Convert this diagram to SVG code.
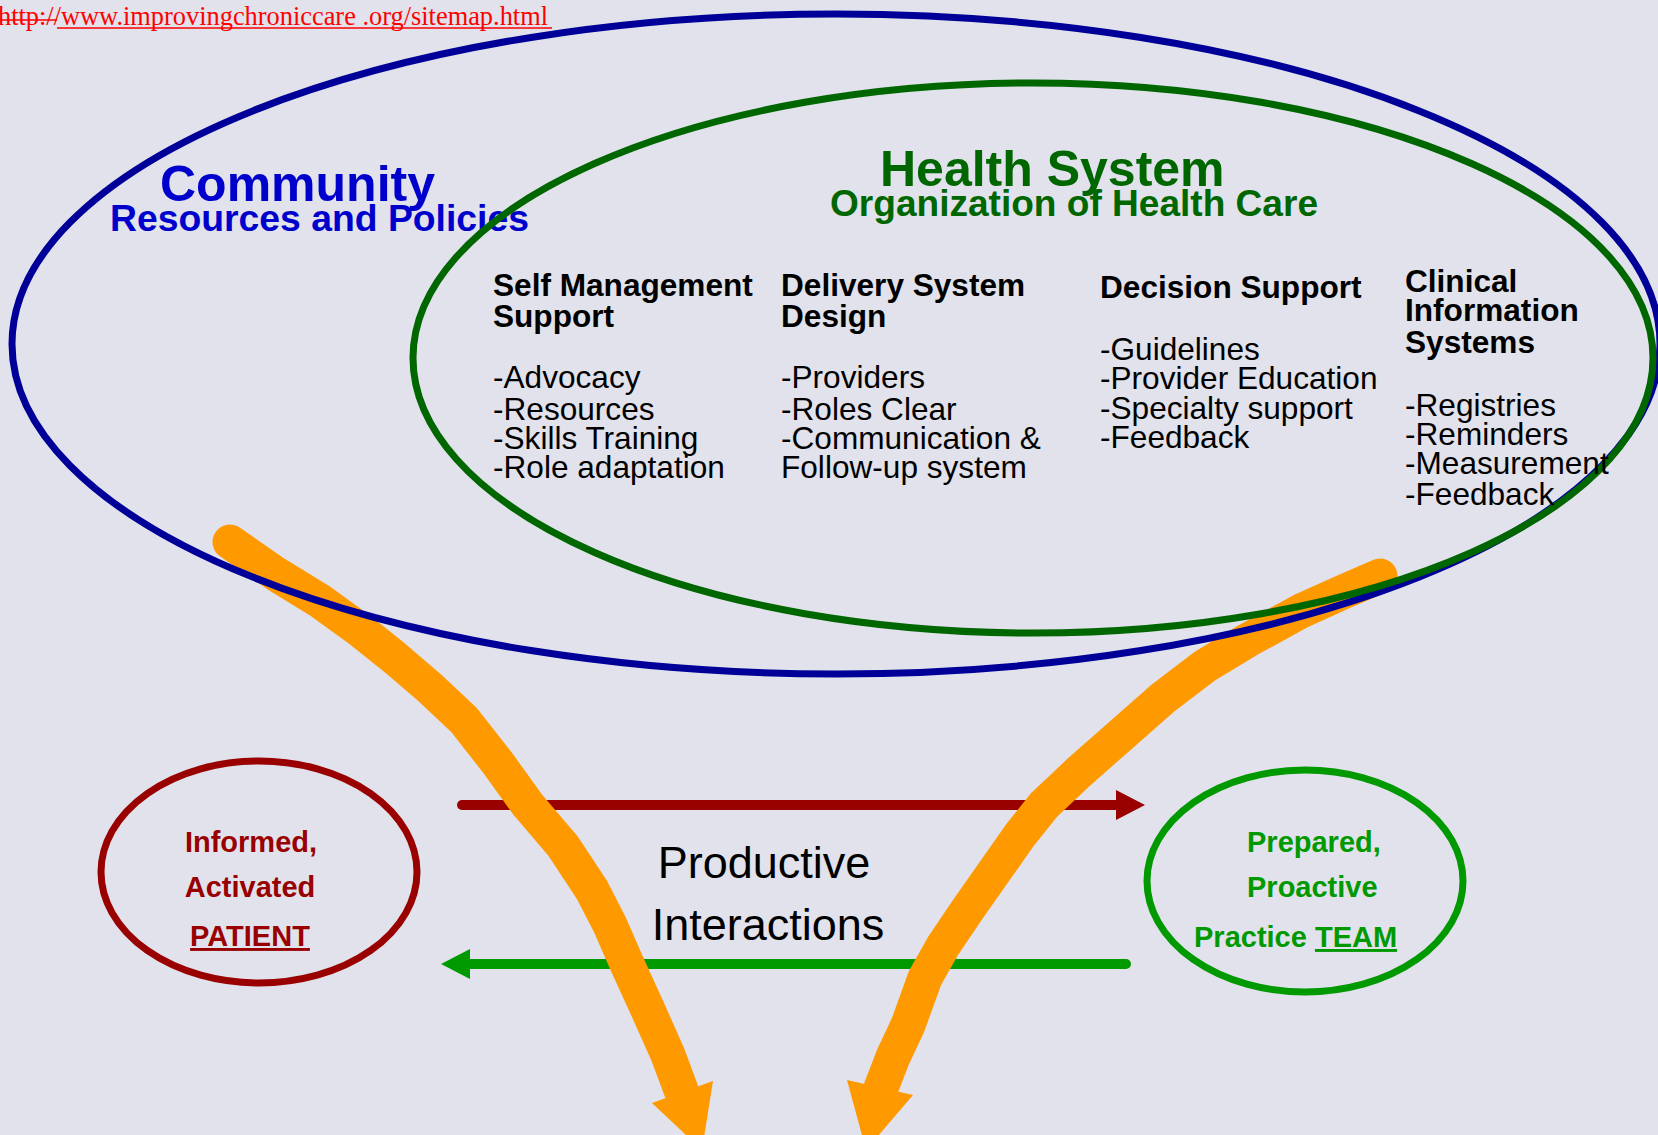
<svg xmlns="http://www.w3.org/2000/svg" width="1658" height="1135" viewBox="0 0 1658 1135">
<style>
.t{font-family:"Liberation Sans",Arial,sans-serif}
.b{font-weight:bold}
.hd{font-size:31.6px;font-weight:bold;fill:#000}
.it{font-size:31.6px;fill:#000}
.ring{fill:none;stroke-width:7}
.orange{fill:none;stroke:#ff9900;stroke-width:35;stroke-linejoin:round}
</style>
<rect width="1658" height="1135" fill="#e1e2eb"/>
<g id="url">
<text x="-2" y="25" font-family="'Liberation Serif','Times New Roman',serif" font-size="26.5" fill="#ff0000" textLength="550" lengthAdjust="spacingAndGlyphs">http://www.improvingchroniccare .org/sitemap.html</text>
<line x1="0" y1="20" x2="57" y2="20" stroke="#ff0000" stroke-width="1.5"/>
<line x1="57" y1="28" x2="552" y2="28" stroke="#ff0000" stroke-width="1.5"/>
</g>
<g id="connectors">
<line x1="462" y1="805" x2="1118" y2="805" stroke="#990000" stroke-width="10" stroke-linecap="round"/>
<polygon points="1116,790 1145,805 1116,820" fill="#990000"/>
<line x1="1126" y1="964" x2="468" y2="964" stroke="#009900" stroke-width="10" stroke-linecap="round"/>
<polygon points="470,949 441,964 470,979" fill="#009900"/>
<path class="orange" stroke-linecap="round" d="M230,542 L276,574 L320,601 L360,630 L395,658 L430,688 L464,720 L497,762 L528,805 L563,846 L592,890 L610,925 L627,964 L648,1010 L668,1055 L681,1090"/>
<polygon points="652,1103 713,1081 702,1150" fill="#ff9900"/>
<path class="orange" stroke-linecap="round" d="M1380,576 L1343,592 L1301,611 L1248,640 L1205,666 L1163,698 L1121,735 L1079,772 L1044,805 L1020,835 L994,872 L968,909 L943,946 L925,978 L908,1025 L893,1057 L881,1088"/>
<polygon points="847,1080 913,1095 866,1150" fill="#ff9900"/>
<text class="t" x="764" y="878" font-size="45" text-anchor="middle" fill="#000">Productive</text>
<text class="t" x="768" y="940" font-size="45" text-anchor="middle" fill="#000">Interactions</text>
</g>
<g id="community">
<ellipse class="ring" cx="836" cy="344" rx="824" ry="330" stroke="#000099"/>
<text class="t b" x="160" y="201" font-size="50" fill="#0000cc">Community</text>
<text class="t b" x="110" y="231" font-size="36" fill="#0000cc" textLength="419" lengthAdjust="spacingAndGlyphs">Resources and Policies</text>
</g>
<g id="health-system">
<ellipse class="ring" cx="1033" cy="358" rx="620" ry="275" stroke="#006600"/>
<text class="t b" x="880" y="186" font-size="50" fill="#006600">Health System</text>
<text class="t b" x="830" y="216" font-size="36" fill="#006600" textLength="488" lengthAdjust="spacingAndGlyphs">Organization of Health Care</text>
<g id="self-management">
<text class="t hd" x="493" y="296">Self Management</text>
<text class="t hd" x="493" y="327">Support</text>
<text class="t it" x="493" y="388">-Advocacy</text>
<text class="t it" x="493" y="420">-Resources</text>
<text class="t it" x="493" y="449">-Skills Training</text>
<text class="t it" x="493" y="478">-Role adaptation</text>
</g>
<g id="delivery-system">
<text class="t hd" x="781" y="296">Delivery System</text>
<text class="t hd" x="781" y="327">Design</text>
<text class="t it" x="781" y="388">-Providers</text>
<text class="t it" x="781" y="420">-Roles Clear</text>
<text class="t it" x="781" y="449">-Communication &amp;</text>
<text class="t it" x="781" y="478">Follow-up system</text>
</g>
<g id="decision-support">
<text class="t hd" x="1100" y="298">Decision Support</text>
<text class="t it" x="1100" y="360">-Guidelines</text>
<text class="t it" x="1100" y="389">-Provider Education</text>
<text class="t it" x="1100" y="419">-Specialty support</text>
<text class="t it" x="1100" y="448">-Feedback</text>
</g>
<g id="clinical-information">
<text class="t hd" x="1405" y="292">Clinical</text>
<text class="t hd" x="1405" y="321">Information</text>
<text class="t hd" x="1405" y="353">Systems</text>
<text class="t it" x="1405" y="416">-Registries</text>
<text class="t it" x="1405" y="445">-Reminders</text>
<text class="t it" x="1405" y="474">-Measurement</text>
<text class="t it" x="1405" y="505">-Feedback</text>
</g>
</g>
<g id="patient">
<ellipse class="ring" cx="259" cy="872" rx="158" ry="111" stroke="#990000"/>
<text class="t b" x="251" y="852" font-size="29" text-anchor="middle" fill="#990000">Informed,</text>
<text class="t b" x="250" y="897" font-size="29" text-anchor="middle" fill="#990000">Activated</text>
<text class="t b" x="250" y="946" font-size="29" text-anchor="middle" fill="#990000" text-decoration="underline">PATIENT</text>
</g>
<g id="team">
<ellipse class="ring" cx="1305" cy="881" rx="158" ry="111" stroke="#009900"/>
<text class="t b" x="1247" y="852" font-size="29" fill="#009900">Prepared,</text>
<text class="t b" x="1247" y="897" font-size="29" fill="#009900">Proactive</text>
<text class="t b" x="1194" y="947" font-size="29" fill="#009900">Practice <tspan text-decoration="underline">TEAM</tspan></text>
</g>
</svg>
